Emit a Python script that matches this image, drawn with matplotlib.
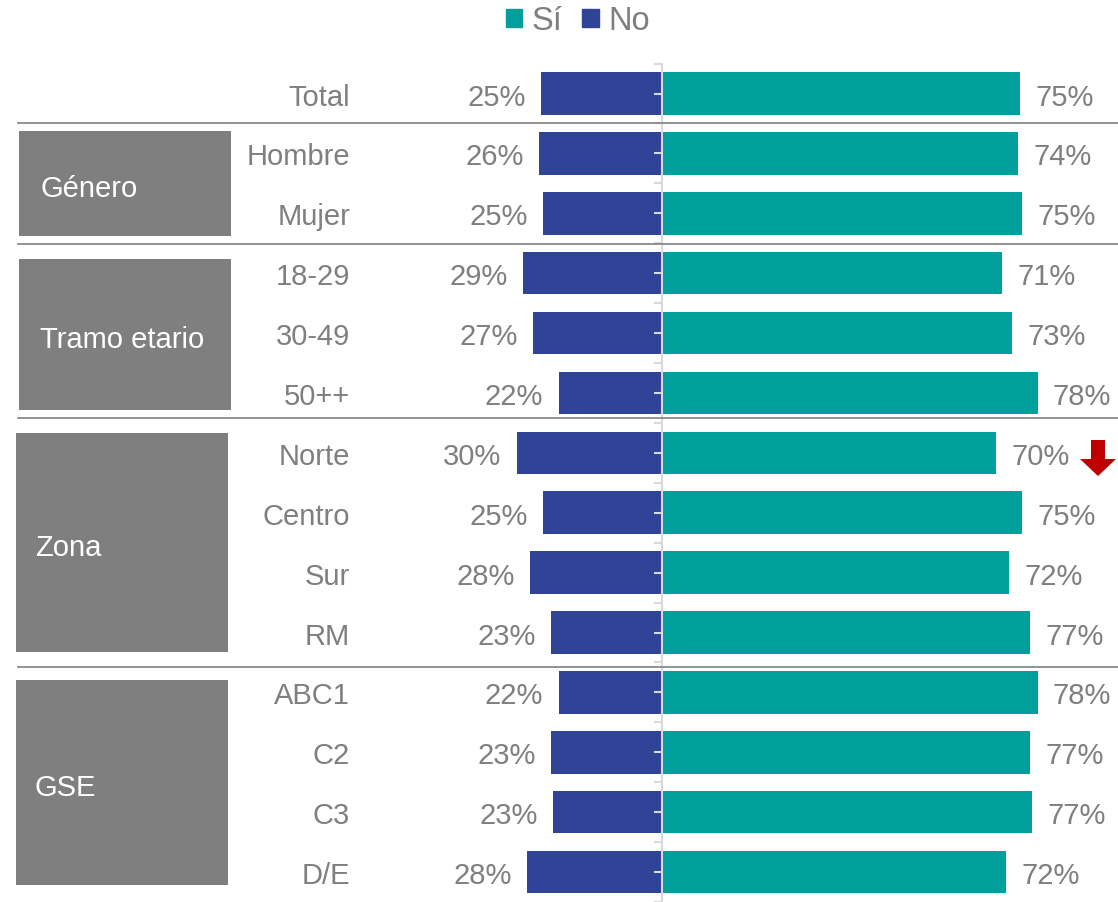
import matplotlib
matplotlib.use("Agg")
from matplotlib import pyplot as plt
from matplotlib import transforms
from matplotlib.lines import Line2D
from matplotlib.patches import Rectangle, Polygon, Patch

plt.rcParams["font.family"] = ["Liberation Sans", "DejaVu Sans"]

CATEGORIES = ["Total", "Hombre", "Mujer", "18-29", "30-49", "50++",
              "Norte", "Centro", "Sur", "RM", "ABC1", "C2", "C3", "D/E"]
NO_VALUES = [25.3, 25.7, 24.8, 29.0, 26.9, 21.6, 30.3, 24.8, 27.6, 23.2,
             21.6, 23.2, 22.8, 28.2]
SI_VALUES = [74.7, 74.3, 75.2, 71.0, 73.1, 78.4, 69.7, 75.2, 72.4, 76.8,
             78.4, 76.8, 77.2, 71.8]
GROUPS = ["Género", "Tramo etario", "Zona", "GSE"]
DOWN_ARROW_ROWS = ["Norte"]

W, H = 1118, 903
TEAL = "#009F9B"
NAVY = "#2F4397"
TEXT = "#7f7f7f"
BOX = "#7f7f7f"
FS = 21


def fx(x):
    return x / W


def fy(y):
    return 1 - y / H


def main():
    fig = plt.figure(figsize=(W / 100, H / 100), dpi=100)
    top = 64.6
    ax = fig.add_axes([fx(400), 0, fx(718), (H - top) / H])
    rows = list(range(len(CATEGORIES)))

    ax.barh(rows, [-v for v in NO_VALUES], height=0.71, color=NAVY)
    ax.barh(rows, SI_VALUES, height=0.71, color=TEAL)

    for r, no, si in zip(rows, NO_VALUES, SI_VALUES):
        ax.annotate(f"{round(no)}%", (-no, r), xytext=(-11, 0),
                    textcoords="offset points", ha="right",
                    va="center_baseline", fontsize=FS, color=TEXT)
        ax.annotate(f"{round(si)}%", (si, r), xytext=(11, 0),
                    textcoords="offset points", ha="left",
                    va="center_baseline", fontsize=FS, color=TEXT)

    ax.set_xlim(-262 / 4.79, 456 / 4.79)
    ax.set_ylim(-0.5 + (H - top) / 60.2, -0.5)

    for s in ["top", "right", "bottom"]:
        ax.spines[s].set_visible(False)
    ax.spines["left"].set_position(("data", 0))
    ax.spines["left"].set_color("#d9d9d9")
    ax.spines["left"].set_linewidth(1.5)
    ax.spines["left"].set_zorder(3)
    ax.set_xticks([])
    ax.set_yticks([r - 0.5 for r in rows] + [len(rows) - 0.5])
    ax.set_yticks(rows, minor=True)
    ax.tick_params(axis="y", which="both", direction="out", length=6,
                   width=1.5, color="#d9d9d9", labelleft=False)

    # category labels
    trans = transforms.blended_transform_factory(fig.transFigure, ax.transData)
    for r, cat in zip(rows, CATEGORIES):
        ax.text(fx(350), r, cat, transform=trans, ha="right",
                va="center_baseline", fontsize=FS, color=TEXT)

    # separators
    for y in [124, 245, 419, 668]:
        fig.add_artist(Line2D([fx(18), fx(1118)], [fy(y), fy(y)],
                              color="#808080", lw=1.2))

    # group boxes
    boxes = [(19, 132, 231, 237, 40, 186), (19, 260, 231, 411, 40, 337),
             (16, 434, 228, 653, 35, 545), (16, 681, 228, 886, 35, 785)]
    for name, (x0, y0, x1, y1, tx, ty) in zip(GROUPS, boxes):
        fig.add_artist(Rectangle((fx(x0), fy(y1)), fx(x1 - x0), (y1 - y0) / H,
                                 facecolor=BOX, edgecolor="none"))
        fig.text(fx(tx), fy(ty), name, ha="left", va="center_baseline",
                 fontsize=FS, color="white")

    # down arrow next to flagged rows
    for cat in DOWN_ARROW_ROWS:
        cx, ytop, neck, tip = 1098, 441, 460, 477
        pts = [(cx - 7, ytop), (cx + 7, ytop), (cx + 7, neck), (cx + 18, neck),
               (cx, tip), (cx - 18, neck), (cx - 7, neck)]
        fig.add_artist(Polygon([(fx(x), fy(y)) for x, y in pts],
                               closed=True, facecolor="#C00000",
                               edgecolor="none"))

    handles = [Patch(color=TEAL, label="Sí"), Patch(color=NAVY, label="No")]
    fig.legend(handles=handles, loc="center", bbox_to_anchor=(fx(578), fy(22)),
               ncol=2, frameon=False, fontsize=23.5, labelcolor=TEXT,
               handlelength=0.5, handleheight=0.5, handletextpad=0.3,
               columnspacing=0.6, borderaxespad=0)

    fig.savefig("out.png", dpi=100)


if __name__ == "__main__":
    main()
